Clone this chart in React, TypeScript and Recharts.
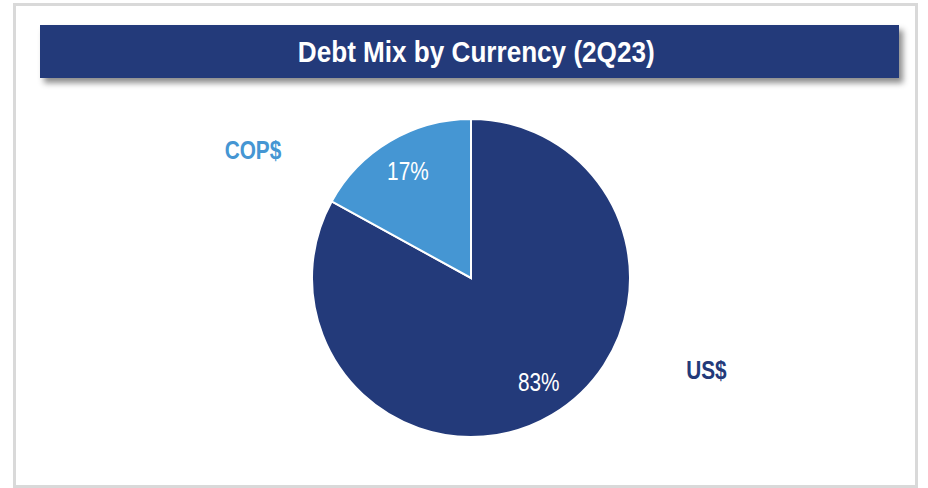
import React from "react"
import { PieChart, Pie, Cell } from "recharts"

const currencies = ["US$", "COP$"]
const shares = [83, 17]
const colors = ["#233a7a", "#4596d3"]

const data = currencies.map((name, i) => ({ name, value: shares[i] }))

const RADIAN = Math.PI / 180
const font = "'Liberation Sans', Arial, sans-serif"

// no narrow face available, so squeeze the regular one
const squeeze = 0.8

// labels sit a little off the slice mid-angle
const nameShift: Record<string, number> = { "US$": 38, "COP$": 29 }
const valueShift: Record<string, number> = { "US$": 2.5, "COP$": 0 }

const renderLabel = (props: any) => {
  const { cx, cy, midAngle, outerRadius, value, name, index } = props
  const r = outerRadius * 0.78
  const va = midAngle + (valueShift[name] ?? 0)
  const x = cx + r * Math.cos(-va * RADIAN)
  const y = cy + r * Math.sin(-va * RADIAN)
  const a = midAngle + (nameShift[name] ?? 0)
  const r2 = outerRadius * 1.59
  const nx = cx + r2 * Math.cos(-a * RADIAN)
  const ny = cy + r2 * Math.sin(-a * RADIAN)
  return (
    <g>
      <text
        transform={`translate(${x},${y}) scale(${squeeze},1)`}
        fill="#ffffff"
        textAnchor="middle"
        dominantBaseline="central"
        fontFamily={font}
        fontSize={26}
      >
        {`${value}%`}
      </text>
      <text
        transform={`translate(${nx},${ny}) scale(${squeeze},1)`}
        fill={colors[index]}
        textAnchor="middle"
        dominantBaseline="central"
        fontFamily={font}
        fontSize={26}
        fontWeight="bold"
      >
        {name}
      </text>
    </g>
  )
}

export default function App() {
  return (
    <div style={{ position: "fixed", left: 0, top: 0, width: 928, height: 488, background: "#fff", overflow: "hidden" }}>
      <div
        style={{
          position: "absolute",
          left: 13,
          top: 3,
          width: 905,
          height: 485,
          border: "3px solid #d9d9d9",
          boxSizing: "border-box",
        }}
      />
      <div
        style={{
          position: "absolute",
          left: 40,
          top: 25,
          width: 859,
          height: 53,
          background: "#233a7a",
          boxShadow: "4px 5px 6px rgba(0,0,0,0.45)",
          color: "#fff",
          fontFamily: font,
          fontWeight: "bold",
          fontSize: 29,
          lineHeight: "55px",
          textAlign: "center",
          paddingLeft: 14,
          boxSizing: "border-box",
          whiteSpace: "nowrap",
        }}
      >
        <span style={{ display: "inline-block", transform: "scaleX(0.9)" }}>Debt Mix by Currency (2Q23)</span>
      </div>
      <div style={{ position: "absolute", left: 0, top: 0 }}>
        <PieChart width={928} height={488} margin={{ top: 0, right: 0, bottom: 0, left: 0 }}>
          <Pie
            data={data}
            dataKey="value"
            nameKey="name"
            cx={471}
            cy={278}
            outerRadius={159}
            startAngle={90}
            endAngle={-270}
            stroke="#ffffff"
            strokeWidth={2}
            label={renderLabel}
            labelLine={false}
            isAnimationActive={false}
          >
            {data.map((d, i) => (
              <Cell key={d.name} fill={colors[i]} />
            ))}
          </Pie>
        </PieChart>
      </div>
    </div>
  )
}
